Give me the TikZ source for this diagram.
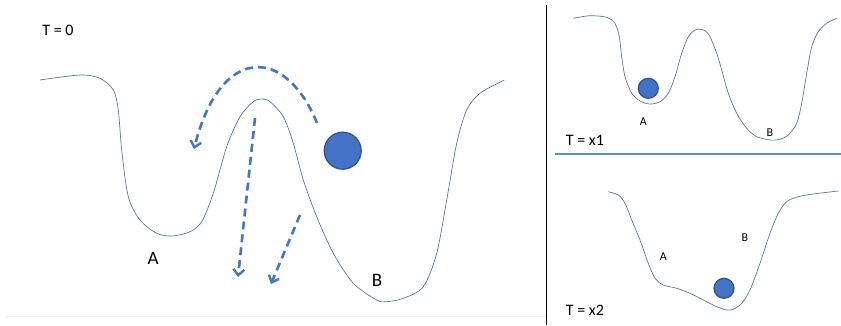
\documentclass[tikz,border=0pt]{standalone}
\usepackage{fontspec}
\setmainfont{Carlito}
\usetikzlibrary{arrows.meta}
\definecolor{landcol}{HTML}{5A6F8C}
\definecolor{ballfill}{HTML}{4472C4}
\definecolor{balledge}{HTML}{2F528F}
\definecolor{dashcol}{HTML}{4676BE}
\definecolor{sepblue}{HTML}{5B8DB5}
\tikzset{
  land/.style={draw=landcol, line width=0.65pt},
  ball/.style={circle, fill=ballfill, draw=balledge, line width=1.2pt, inner sep=0pt},
  jump/.style={draw=dashcol, line width=2.6pt, dash pattern=on 8pt off 5pt,
    -{Straight Barb[length=6pt,width=11pt,line width=2.4pt]}},
  biglbl/.style={font=\fontsize{19}{22}\selectfont},
  smalllbl/.style={font=\fontsize{12}{14}\selectfont},
  tlbl/.style={font=\fontsize{16}{19}\selectfont},
}
\begin{document}
\begin{tikzpicture}[x=1pt,y=-1pt]
\useasboundingbox (0,0) rectangle (841,325);
\fill[white] (0,0) rectangle (841,325);
% faint bottom strip
\draw[black!7, line width=1pt] (5,316) -- (545,316);

% separators
\coordinate (vtop) at (546.7,5);
\coordinate (vbot) at (546.7,325);
\draw[black, line width=0.9pt] (vtop) -- (vbot);
\coordinate (hl) at (555,154);
\coordinate (hr) at (841,154);
\draw[sepblue, line width=1.3pt] (hl) -- (hr);

% left landscape
\draw[land] plot[smooth, tension=0.5] coordinates {
(40,80) (80,75) (100,78.3) (113.3,90) (118.3,110) (121.7,150) (128.3,196.7)
(140,220) (156.7,233.3) (172.3,236) (190,231.7) (201.7,221.7) (213.3,193.3)
(226.7,146.7) (240,116.7) (253.3,101.7) (261.7,99) (270,101.7) (283.3,116.7)
(293.3,143.3) (303.3,180) (316.7,216.7) (333.3,253.3) (353.3,283.3) (376.7,300)
(386.7,301.7) (403.3,298.3) (423.3,286.7) (436.7,253.3) (446.7,200) (456.7,143.3)
(466.7,110) (480,93.3) (504.3,80)};

\node[ball, minimum size=37pt] (ball0) at (342.7,150.7) {};
\node[tlbl] (t0) at (58,30) {T = 0};
\node[biglbl] (a0) at (153,258) {A};
\node[biglbl] (b0) at (377,280) {B};

% dashed arrows
\coordinate (arcS) at (317,123);
\coordinate (arcE) at (194,149);
\draw[jump] (arcS) .. controls (285,45) and (220,45) .. (arcE);
\coordinate (d1S) at (255,118);
\coordinate (d1E) at (238,277);
\draw[jump] (d1S) -- (d1E);
\coordinate (d2S) at (300,215);
\coordinate (d2E) at (271,284);
\draw[jump] (d2S) -- (d2E);

% top right landscape
\draw[land] plot[smooth, tension=0.5] coordinates {
(573.3,18.3) (590,15.7) (606.7,17.3) (615,23.3) (619.3,36.7) (621.7,56.7) (625,76.7)
(631.7,93.3) (640,101) (650,104) (660,101.7) (668.3,93.3) (675,76.7) (681.7,53.3)
(688.3,36.7) (695,30) (700,29.3) (705,30.7) (710,36.7) (716.7,53.3) (721.7,70)
(728.3,93.3) (736.7,113.3) (746.7,128.3) (756.7,136.7) (770,140) (780,139.3)
(788.3,135) (796.7,123.3) (801.7,103.3) (806.7,73.3) (811.7,46.7) (818.3,31.7)
(826.7,23.3) (836.7,18.3)};
\node[ball, minimum size=20pt] (ball1) at (648.3,88.3) {};
\node[smalllbl] (a1) at (643.3,121.7) {A};
\node[smalllbl] (b1) at (770,132.7) {B};
\node[tlbl] (t1) at (585,140.5) {T = x1};

% bottom right landscape
\draw[land] plot[smooth, tension=0.5] coordinates {
(608.3,191.7) (618.3,195) (625,203.3) (631.7,220) (640,240) (648.3,263.3)
(655,278.3) (663.3,285) (676.7,288.3) (690,293.3) (703.3,300) (716.7,306.7)
(726.7,310) (733.3,309.3) (741.7,303.3) (750,290) (760,263.3) (770,233.3)
(778.3,213.3) (786.7,201.7) (798.3,196.7) (813.3,194) (838.3,191)};
\node[ball, minimum size=20pt] (ball2) at (724,288.3) {};
\node[smalllbl] (a2) at (663.3,256.7) {A};
\node[smalllbl] (b2) at (745,237.3) {B};
\node[tlbl] (t2) at (585,310) {T = x2};
\end{tikzpicture}
\end{document}
